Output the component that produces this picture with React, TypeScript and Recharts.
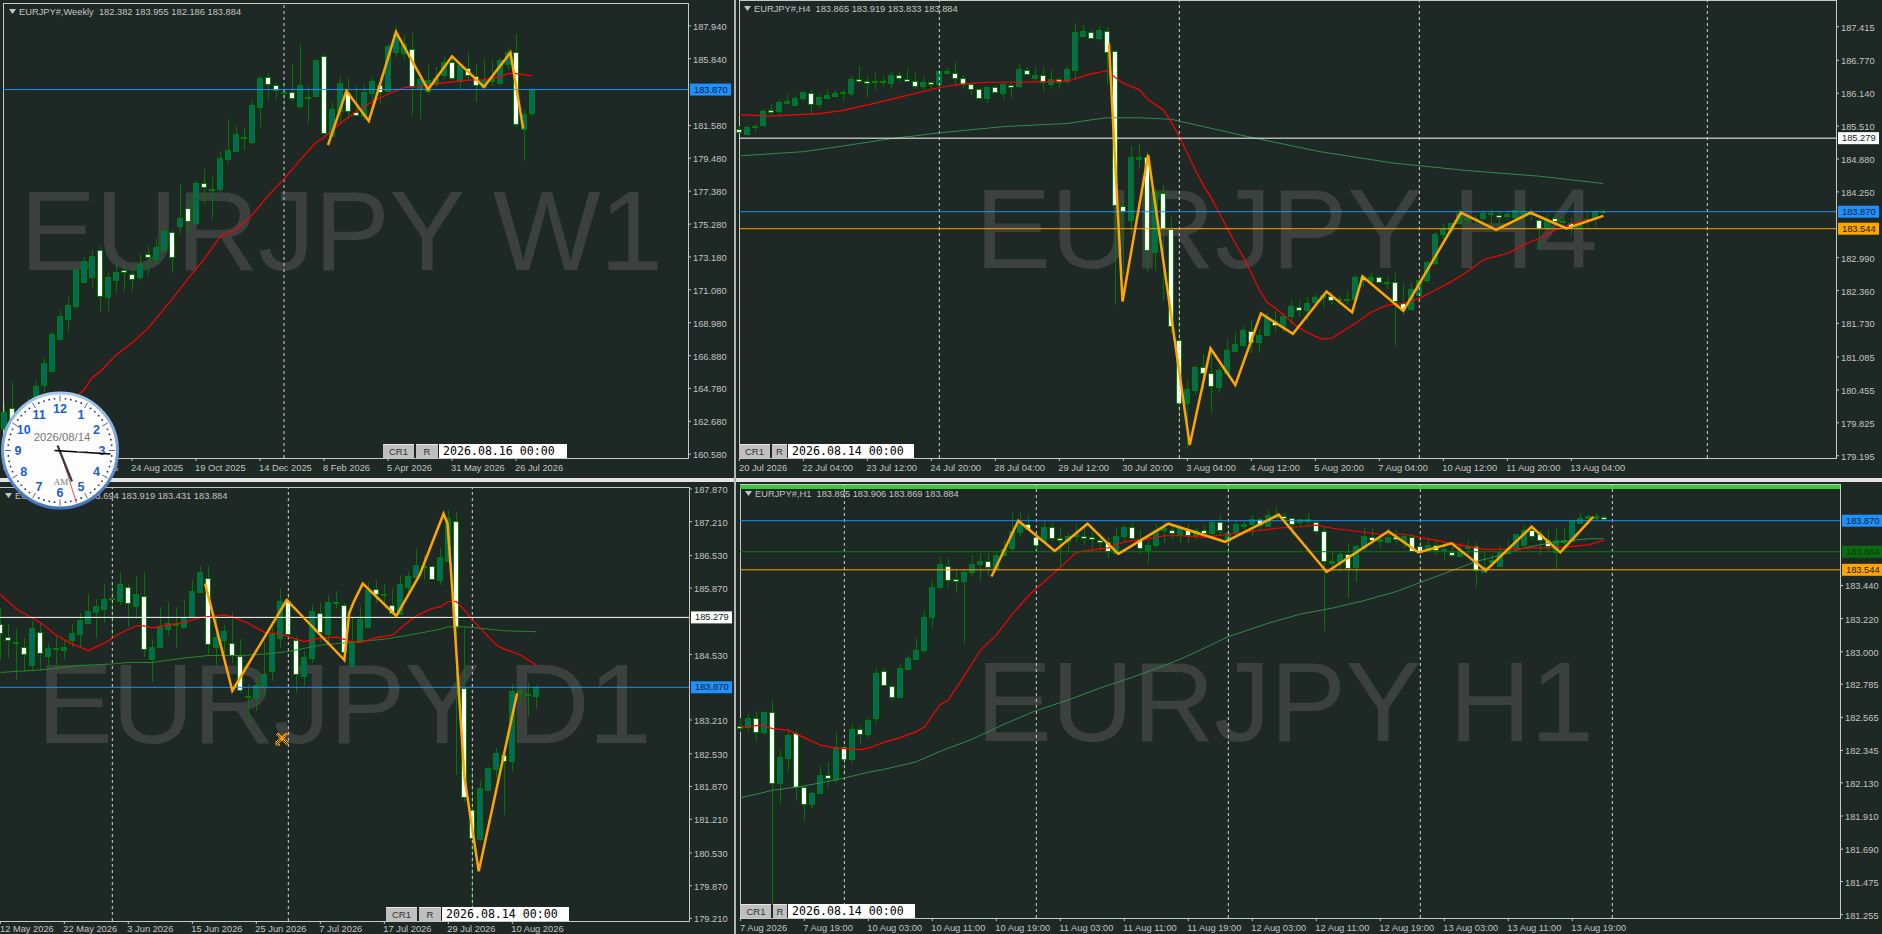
import React from 'react';
import { Bar, ComposedChart, Line, ReferenceLine, XAxis, YAxis } from 'recharts';

// weekly
const w1Open = [
  162.3,163.55,162.3,163.0,164.25,164.96,165.85,167.93,169.19,170.06,
  171.6,171.91,173.64,170.6,171.66,172.32,172.1,171.87,173.4,173.04,
  173.64,174.79,175.19,176.3,175.38,177.91,177.53,177.55,179.45,179.98,
  180.81,180.53,182.76,184.68,184.17,183.62,183.72,182.83,183.36,183.47,
  186.02,180.96,182.55,183.62,182.45,182.23,183.66,184.15,183.83,186.27,
  186.17,186.47,183.93,183.79,184.25,184.79,185.64,184.42,185.25,184.72,
  184.0,184.47,184.25,185.53,186.27,181.38,182.382,
];
const w1Close = [
  163.3,162.87,163.0,163.6,164.96,166.38,168.23,169.38,170.08,172.34,
  172.93,173.27,170.68,171.87,172.19,172.19,171.8,172.7,173.19,173.79,
  174.87,173.17,175.7,175.47,177.91,177.68,177.45,179.53,180.04,181.06,
  180.87,182.91,184.64,184.25,183.85,183.7,183.36,184.19,183.42,185.74,
  181.13,182.66,184.32,182.49,182.28,183.74,184.45,183.72,186.68,187.44,
  186.76,184.08,184.57,184.51,184.64,185.64,184.64,185.42,184.79,184.15,
  184.46,184.64,185.74,186.27,181.64,182.34,183.884,
];
const w1High = [
  163.93,165.17,163.4,164.19,165.25,166.7,168.36,169.79,170.6,172.44,
  173.19,173.61,173.87,172.13,172.93,172.66,172.62,173.34,173.87,174.42,
  175.06,174.93,177.87,176.85,178.04,178.79,178.3,179.93,181.96,181.53,
  181.45,183.13,184.72,184.93,184.36,184.15,185.53,186.81,184.08,185.81,
  186.17,183.08,184.74,184.64,184.08,184.19,184.68,184.68,186.81,187.91,
  187.34,187.51,185.0,185.42,185.32,185.96,186.06,185.53,186.27,185.53,
  185.85,185.74,185.91,186.59,187.45,182.66,183.955,
];
const w1Low = [
  161.8,162.4,162.0,162.6,163.9,164.57,165.74,167.81,168.4,169.83,
  171.53,171.27,169.68,169.74,170.89,171.02,171.02,171.66,172.02,172.76,
  173.55,172.17,174.64,174.72,175.17,176.55,175.62,177.27,179.19,179.96,
  180.0,180.38,181.49,183.19,183.3,182.55,183.13,182.66,181.74,183.4,
  180.81,180.85,181.7,182.02,182.13,181.91,183.08,182.98,183.72,185.96,
  185.74,182.23,181.98,183.5,184.04,184.57,184.47,183.89,184.57,183.08,
  183.9,184.08,184.19,185.1,181.49,179.3,182.186,
];
const w1Ma = [
  [1,160.9],[5,162.6],[10,164.68],[11,165.47],[12,165.85],[14,166.91],[16,167.7],[18,168.62],[20,169.87],[21,170.47],
  [23,171.8],[25,173.02],[27,174.47],[29,174.93],[31,175.85],[33,177.08],[35,178.17],[37,179.36],[39,180.49],[40,180.81],
  [42,181.7],[44,182.45],[46,183.08],[48,183.57],[50,184.0],[52,184.08],[54,184.25],[56,184.36],[58,184.47],[60,184.51],
  [62,184.68],[63,184.89],[64,184.89],[65,184.83],[66,184.74],
];
const w1Zigzag = [
  [40.5,180.32],[42.8,183.79],[45.6,181.87],[49,187.55],[53,183.87],[56,185.99],[60,184.04],[63.3,186.23],[64.9,181.38],
];
const w1Ticks = [187.94,185.84,181.58,179.48,177.38,175.28,173.18,171.08,168.98,166.88,164.78,162.68,160.58];
const w1Dates: [number, string][] = [
  [0,'4 May 2025'],[8,'29 Jun 2025'],[16,'24 Aug 2025'],[24,'19 Oct 2025'],[32,'14 Dec 2025'],
  [40,'8 Feb 2026'],[48,'5 Apr 2026'],[56,'31 May 2026'],[64,'26 Jul 2026'],
];

// h4
const h4Open = [
  185.45,185.37,185.5,185.52,185.81,185.79,185.96,185.9,186.04,186.15,
  185.92,186.05,186.09,186.14,186.15,186.42,186.38,186.35,186.35,186.34,
  186.48,186.42,186.38,186.28,186.35,186.32,186.53,186.53,186.44,186.32,
  186.23,186.03,186.25,186.14,186.3,186.27,186.59,186.43,186.48,186.32,
  186.42,186.37,186.59,187.23,187.32,187.2,187.34,186.94,183.97,183.71,
  184.89,184.91,183.1,184.23,183.53,181.41,180.2,180.45,180.89,180.77,
  180.52,180.77,181.2,181.32,181.59,181.38,181.5,181.78,181.68,181.86,
  182.05,181.99,182.13,182.23,182.25,182.17,182.18,182.18,182.61,182.53,
  182.61,182.5,182.52,182.13,182.0,182.27,182.55,182.89,183.43,183.52,
  183.65,183.72,183.72,183.74,183.82,183.81,183.78,183.76,183.84,183.87,
  183.72,183.57,183.74,183.68,183.66,183.58,183.71,183.74,183.865,
];
const h4Close = [
  185.39,185.5,185.52,185.79,185.77,185.97,185.99,186.04,186.16,185.93,
  186.06,186.1,186.14,186.16,186.42,186.39,186.35,186.37,186.37,186.49,
  186.42,186.38,186.28,186.35,186.32,186.56,186.56,186.44,186.33,186.23,
  186.06,186.25,186.16,186.31,186.26,186.6,186.52,186.48,186.34,186.42,
  186.37,186.6,187.31,187.33,187.21,187.35,186.94,183.98,183.87,184.92,
  184.92,183.12,184.25,183.55,181.67,180.2,180.47,180.89,180.77,180.52,
  180.84,181.22,181.33,181.6,181.38,181.51,181.83,181.7,181.87,182.06,
  182.0,182.13,182.23,182.27,182.18,182.19,182.19,182.61,182.55,182.61,
  182.52,182.52,182.15,182.0,182.38,182.56,182.9,183.44,183.53,183.65,
  183.84,183.74,183.74,183.84,183.84,183.78,183.82,183.9,183.87,183.83,
  183.57,183.72,183.69,183.7,183.6,183.68,183.73,183.88,183.884,
];
const h4High = [
  185.51,185.52,185.55,185.84,185.93,186.02,186.12,186.1,186.19,186.2,
  186.12,186.2,186.21,186.2,186.47,186.66,186.47,186.53,186.47,186.55,
  186.55,186.6,186.52,186.46,186.36,186.58,186.63,186.74,186.49,186.34,
  186.24,186.28,186.3,186.33,186.33,186.7,186.64,186.65,186.65,186.58,
  186.44,186.67,187.48,187.45,187.35,187.43,187.41,186.97,184.15,185.12,
  185.17,185.03,184.32,184.38,183.77,182.24,180.65,180.91,181.14,181.22,
  180.9,181.43,181.56,181.68,181.8,181.62,181.92,181.97,181.92,182.18,
  182.15,182.23,182.29,182.32,182.34,182.27,182.36,182.64,182.66,182.69,
  182.64,182.61,182.69,182.5,182.51,182.6,182.93,183.49,183.66,183.66,
  183.93,183.84,183.81,183.89,183.93,183.87,183.91,183.93,183.95,183.93,
  183.77,183.83,183.84,183.78,183.74,183.74,183.87,183.9,183.919,
];
const h4Low = [
  185.37,185.36,185.4,185.49,185.72,185.7,185.91,185.89,185.99,185.73,
  185.86,186.03,186.07,185.99,186.09,186.33,186.05,186.2,186.28,186.23,
  186.35,186.35,186.23,186.21,186.23,186.23,186.5,186.3,186.22,186.11,
  186.05,185.96,186.14,186.03,186.05,186.24,186.5,186.38,186.18,186.22,
  186.22,186.32,186.41,187.21,187.17,187.14,186.3,182.08,182.66,183.45,
  184.7,182.72,182.73,182.18,181.55,179.9,179.32,180.36,180.45,180.02,
  180.4,180.74,181.19,181.28,181.17,181.17,181.48,181.56,181.56,181.72,
  181.86,181.8,182.06,182.04,182.1,182.11,182.11,182.15,182.43,182.47,
  182.5,182.38,181.3,181.9,181.96,182.21,182.5,182.85,183.26,183.46,
  183.62,183.58,183.62,183.57,183.55,183.58,183.72,183.58,183.57,183.71,
  183.14,183.52,183.57,183.55,183.42,183.52,183.58,183.57,183.833,
];
const h4MaFast = [
  [0,185.73],[4,185.7],[5,185.71],[10,185.75],[13,185.81],[17,185.95],[21,186.1],[25,186.25],[28,186.32],[31,186.35],
  [35,186.35],[41,186.37],[44,186.51],[46,186.57],[47,186.44],[48,186.33],[50,186.21],[51,186.03],[53,185.82],[54,185.59],
  [55,185.31],[57,184.67],[58,184.38],[59,184.13],[60,183.84],[61,183.55],[62,183.26],[63,183.0],[64,182.69],[65,182.37],
  [66,182.13],[67,182.02],[68,181.9],[69,181.76],[70,181.64],[71,181.56],[72,181.48],[73,181.43],[74,181.44],[75,181.54],
  [77,181.73],[79,181.95],[81,182.08],[83,182.11],[85,182.21],[87,182.37],[89,182.53],[91,182.72],[93,182.95],[96,183.07],
  [98,183.23],[100,183.36],[102,183.52],[104,183.64],[106,183.71],[108,183.79],
];
const h4MaSlow = [
  [0,184.94],[8,185.02],[13,185.13],[19,185.27],[25,185.38],[33,185.5],[41,185.56],[44,185.63],[46,185.67],[50,185.67],
  [54,185.64],[63.5,185.31],[72.6,185.02],[81.8,184.8],[90.9,184.66],[100,184.55],[108,184.41],
];
const h4Zigzag = [
  [46.2,187.09],[47.9,182.15],[51.1,184.96],[56.3,179.4],[58.9,181.25],[62,180.55],[65.2,181.92],[69.2,181.53],[73.4,182.34],
  [76.6,181.94],[77.9,182.63],[83,181.97],[90.2,183.85],[94.6,183.52],[98.9,183.85],[103.4,183.55],[108,183.79],
];
const h4Ticks = [187.415,186.77,186.14,185.51,184.88,184.25,182.99,182.36,181.73,181.085,180.455,179.825,179.195];
const h4Dates: [number, string][] = [
  [0,'20 Jul 2026'],[8,'22 Jul 04:00'],[16,'23 Jul 12:00'],[24,'24 Jul 20:00'],[32,'28 Jul 04:00'],[40,'29 Jul 12:00'],[48,'30 Jul 20:00'],
  [56,'3 Aug 04:00'],[64,'4 Aug 12:00'],[72,'5 Aug 20:00'],[80,'7 Aug 04:00'],[88,'10 Aug 12:00'],[96,'11 Aug 20:00'],[104,'13 Aug 04:00'],
];

// daily
const d1Open = [
  185.15,184.89,184.75,184.68,184.32,184.99,184.49,184.64,184.62,184.81,
  184.94,185.17,185.39,185.46,185.64,185.62,185.9,185.52,185.72,184.45,
  184.69,185.04,185.15,185.09,185.29,185.78,186.08,184.68,184.81,184.77,
  184.5,183.7,183.68,183.91,184.2,184.86,185.6,184.82,184.11,184.47,
  185.37,184.94,185.56,185.53,184.3,184.81,185.08,185.86,185.73,185.53,
  185.36,185.9,186.09,186.31,186.31,186.02,186.42,187.23,183.86,181.4,
  180.81,181.79,182.22,182.51,182.38,183.77,183.73,183.694,
];
const d1Close = [
  184.97,184.82,184.78,184.54,185.06,184.56,184.66,184.67,184.69,184.96,
  185.23,185.41,185.51,185.66,185.67,185.96,185.58,185.76,184.66,184.69,
  185.09,185.16,185.12,185.29,185.81,186.19,184.74,184.88,185.0,184.52,
  183.82,183.67,183.92,184.13,184.94,185.6,184.94,184.13,184.49,185.41,
  184.98,185.58,185.59,184.59,184.79,185.24,185.83,185.76,185.76,185.36,
  185.96,186.12,186.33,186.29,186.04,186.49,187.29,185.09,181.67,180.83,
  181.84,182.24,182.54,182.38,183.8,183.8,183.7,183.884,
];
const d1High = [
  185.46,185.15,185.04,184.86,185.21,185.19,184.76,184.92,184.84,185.15,
  185.36,185.76,185.66,185.96,185.98,186.2,185.96,186.11,186.19,184.84,
  185.48,185.58,185.48,185.63,186.04,186.31,186.32,185.31,185.13,185.39,
  184.84,183.94,184.09,184.79,185.09,185.85,185.76,184.9,184.61,185.53,
  185.56,185.73,185.82,185.56,185.29,185.48,186.0,186.03,185.95,185.86,
  186.13,186.2,186.65,186.53,186.33,186.67,187.45,187.41,185.09,182.24,
  181.99,182.27,182.64,182.69,183.94,183.92,183.96,183.919,
];
const d1Low = [
  184.42,184.47,184.02,184.17,184.21,184.19,184.25,184.22,184.45,184.69,
  184.69,185.15,184.86,185.17,184.88,185.53,185.09,185.24,184.49,183.97,
  184.68,184.92,184.66,185.06,185.28,185.78,184.52,184.25,184.42,184.35,
  183.76,183.15,183.4,183.68,183.99,184.66,184.82,183.75,183.9,184.35,
  184.79,184.76,185.46,184.35,184.29,184.79,185.06,185.56,185.49,185.33,
  185.33,185.73,186.07,186.03,186.03,185.93,186.4,182.11,181.55,179.44,
  180.78,181.77,182.04,181.3,182.19,183.54,183.27,183.431,
];
const d1MaFast = [
  [0,185.74],[2,185.45],[4,185.26],[5,185.17],[7,184.92],[9,184.74],[11,184.61],[13,184.76],[15,184.96],[17,185.11],
  [18,185.11],[19,185.07],[21,185.13],[23,185.18],[25,185.28],[27,185.31],[28,185.33],[29,185.29],[31,185.16],[33,184.98],
  [35,184.94],[36,184.89],[38,184.79],[40,184.86],[42,184.88],[44,184.79],[45,184.77],[47,184.87],[49,184.92],[51,185.19],
  [52,185.31],[54,185.46],[55,185.49],[56,185.6],[57,185.6],[58,185.43],[59,185.23],[61,184.89],[62,184.72],[63,184.64],
  [65,184.52],[67,184.32],
];
const d1MaSlow = [
  [0,184.17],[5,184.22],[10,184.31],[14,184.34],[16,184.37],[19,184.37],[23,184.46],[26,184.51],[30,184.51],[33,184.54],
  [36,184.59],[40,184.72],[44,184.78],[48,184.84],[51,184.92],[55,185.04],[56,185.09],[58,185.09],[60,185.06],[63,185.01],[67,184.99],
];
const d1Zigzag = [
  [25.6,185.96],[29,183.8],[35.8,185.63],[43,184.42],[43.6,185.36],[44.2,185.6],[45.3,185.96],[49.5,185.31],[52.4,186.13],
  [55.4,187.37],[55.9,187.17],[56.5,185.83],[58,182.07],[59.8,180.16],[64.6,183.75],
];
const d1Ticks = [187.87,187.21,186.53,185.87,184.53,183.21,182.53,181.87,181.21,180.53,179.87,179.21];
const d1Dates: [number, string][] = [
  [0,'12 May 2026'],[8,'22 May 2026'],[16,'3 Jun 2026'],[24,'15 Jun 2026'],[32,'25 Jun 2026'],
  [40,'7 Jul 2026'],[48,'17 Jul 2026'],[56,'29 Jul 2026'],[64,'10 Aug 2026'],
];

// h1
const h1Open = [
  182.51,182.5,182.56,182.47,182.6,182.13,182.3,182.46,182.1,181.99,
  182.06,182.18,182.16,182.37,182.29,182.49,182.46,182.56,182.87,182.77,
  182.7,182.89,182.95,183.01,183.23,183.43,183.57,183.48,183.47,183.53,
  183.58,183.6,183.55,183.64,183.69,183.8,183.85,183.76,183.74,183.83,
  183.755,183.74,183.77,183.77,183.76,183.74,183.73,183.66,183.77,183.83,
  183.75,183.68,183.71,183.81,183.81,183.78,183.81,183.78,183.81,183.79,
  183.86,183.74,183.79,183.84,183.85,183.88,183.84,183.9,183.9,183.89,
  183.86,183.87,183.86,183.8,183.59,183.6,183.65,183.56,183.7,183.76,
  183.74,183.73,183.76,183.74,183.76,183.7,183.67,183.71,183.67,183.66,
  183.64,183.69,183.7,183.53,183.6,183.57,183.66,183.69,183.71,183.81,
  183.78,183.74,183.66,183.73,183.74,183.86,183.89,183.89,183.895,
];
const h1Close = [
  182.5,182.56,182.47,182.6,182.13,182.3,182.45,182.1,181.99,182.06,
  182.18,182.16,182.37,182.29,182.49,182.46,182.55,182.86,182.78,182.7,
  182.89,182.96,183.01,183.23,183.43,183.58,183.48,183.47,183.53,183.58,
  183.6,183.56,183.64,183.68,183.8,183.85,183.82,183.71,183.83,183.76,
  183.745,183.77,183.78,183.76,183.75,183.73,183.67,183.77,183.83,183.76,
  183.69,183.71,183.81,183.82,183.79,183.82,183.78,183.81,183.79,183.86,
  183.81,183.79,183.85,183.85,183.88,183.84,183.91,183.91,183.89,183.85,
  183.88,183.88,183.8,183.6,183.6,183.65,183.56,183.7,183.77,183.74,
  183.75,183.76,183.75,183.77,183.67,183.66,183.71,183.68,183.68,183.64,
  183.67,183.7,183.54,183.56,183.61,183.66,183.69,183.78,183.81,183.77,
  183.74,183.7,183.74,183.74,183.87,183.89,183.9,183.9,183.884,
];
const h1High = [
  182.56,182.59,182.61,182.61,182.68,182.35,182.49,182.49,182.11,182.07,
  182.24,182.27,182.47,182.38,182.52,182.51,182.56,182.89,182.89,182.78,
  182.91,182.98,183.09,183.27,183.47,183.63,183.62,183.54,183.55,183.64,
  183.65,183.65,183.66,183.74,183.92,183.93,183.91,183.79,183.87,183.86,
  183.83,183.79,183.85,183.85,183.82,183.79,183.76,183.83,183.84,183.86,
  183.81,183.74,183.85,183.87,183.84,183.85,183.85,183.82,183.84,183.87,
  183.91,183.82,183.87,183.87,183.91,183.89,183.94,183.96,183.92,183.89,
  183.88,183.92,183.87,183.83,183.67,183.67,183.72,183.71,183.82,183.82,
  183.78,183.82,183.81,183.78,183.78,183.75,183.75,183.74,183.73,183.7,
  183.72,183.74,183.73,183.66,183.65,183.7,183.74,183.78,183.84,183.84,
  183.81,183.81,183.82,183.82,183.88,183.92,183.91,183.92,183.906,
];
const h1Low = [
  182.47,182.47,182.41,182.45,181.32,181.99,182.21,182.01,181.88,181.96,
  182.06,182.1,182.13,182.18,182.26,182.39,182.43,182.53,182.77,182.68,
  182.7,182.88,182.95,182.99,183.16,183.42,183.43,183.39,183.05,183.5,
  183.47,183.5,183.55,183.63,183.66,183.76,183.81,183.68,183.73,183.73,
  183.56,183.67,183.73,183.71,183.68,183.68,183.62,183.66,183.72,183.74,
  183.65,183.59,183.69,183.72,183.74,183.72,183.72,183.74,183.76,183.76,
  183.77,183.65,183.76,183.81,183.77,183.81,183.83,183.88,183.85,183.77,
  183.83,183.84,183.78,183.14,183.53,183.53,183.36,183.46,183.67,183.71,
  183.69,183.72,183.71,183.69,183.66,183.6,183.66,183.64,183.61,183.63,
  183.63,183.65,183.43,183.53,183.56,183.56,183.65,183.69,183.7,183.74,
  183.64,183.67,183.55,183.66,183.73,183.85,183.85,183.87,183.869,
];
const h1MaFast = [
  [0,182.5],[2,182.51],[3,182.51],[4,182.49],[6,182.48],[8,182.43],[10,182.38],[12,182.36],[15,182.35],[16,182.36],
  [18,182.4],[20,182.43],[22,182.47],[23,182.5],[25,182.65],[26,182.68],[28,182.84],[30,183.01],[32,183.11],[34,183.25],
  [36,183.37],[37,183.42],[40,183.56],[42,183.66],[43,183.67],[46,183.69],[48,183.73],[51,183.75],[53,183.77],[55,183.77],
  [58,183.76],[61,183.78],[64,183.8],[67,183.82],[70,183.83],[72,183.84],[74,183.82],[77,183.8],[80,183.78],[83,183.78],
  [86,183.75],[89,183.72],[91,183.7],[93,183.68],[96,183.68],[99,183.69],[102,183.69],[104,183.7],[106,183.71],[108,183.74],
];
const h1MaSlow = [
  [0,182.03],[4,182.08],[8,182.11],[12,182.15],[16,182.2],[18,182.22],[22,182.27],[25,182.34],[29,182.42],[33,182.52],
  [37,182.61],[41,182.68],[45,182.76],[49,182.83],[55,182.95],[59,183.05],[61,183.1],[66,183.19],[70,183.25],[74,183.29],
  [78,183.34],[82,183.4],[85,183.46],[89,183.54],[92,183.6],[95,183.64],[98,183.69],[101,183.72],[104,183.74],[106,183.75],[108,183.75],
];
const h1Zigzag = [
  [31.4,183.5],[34.75,183.87],[39.3,183.67],[43.4,183.85],[47.25,183.65],[53.5,183.85],[60.6,183.73],[67.3,183.91],[73.3,183.53],
  [81,183.8],[84.75,183.66],[88.9,183.72],[93.2,183.54],[98.9,183.83],[102.5,183.66],[106.6,183.895],
];
const h1Ticks = [183.44,183.22,183.0,182.785,182.565,182.345,182.13,181.91,181.69,181.475,181.255];
const h1Dates: [number, string][] = [
  [0,'7 Aug 2026'],[8,'7 Aug 19:00'],[16,'10 Aug 03:00'],[24,'10 Aug 11:00'],[32,'10 Aug 19:00'],[40,'11 Aug 03:00'],[48,'11 Aug 11:00'],
  [56,'11 Aug 19:00'],[64,'12 Aug 03:00'],[72,'12 Aug 11:00'],[80,'12 Aug 19:00'],[88,'13 Aug 03:00'],[96,'13 Aug 11:00'],[104,'13 Aug 19:00'],
];

const BG = '#1e2824';
const FRAME = '#c8c8c8';
const TEXT = '#c4c4c4';
const SANS = '"Liberation Sans", Arial, sans-serif';
const MONO = '"DejaVu Sans Mono", monospace';
const BLUE = '#1e90ff';
const ORANGE = '#ffa500';

const pts = (list: number[][]) => list.map(([x, v]) => ({ x, v }));

function buildRows(open: number[], high: number[], low: number[], close: number[], count: number) {
  const rows = [];
  for (let i = 0; i < count; i++) {
    const has = i < open.length;
    rows.push({
      i,
      o: has ? open[i] : null,
      h: has ? high[i] : null,
      l: has ? low[i] : null,
      c: has ? close[i] : null,
      range: has ? [low[i], high[i]] : null,
    });
  }
  return rows;
}

function Candle(props: any) {
  const { x, y, width, height, payload } = props;
  if (!payload || payload.h == null) return null;
  const k = height / (payload.h - payload.l);
  const cx = Math.round(x + width / 2) + 0.5;
  const top = y + (payload.h - Math.max(payload.o, payload.c)) * k;
  const bottom = y + (payload.h - Math.min(payload.o, payload.c)) * k;
  const up = payload.c >= payload.o;
  return (
    <g shapeRendering="crispEdges">
      <line x1={cx} x2={cx} y1={y} y2={y + height} stroke="#007800" />
      <rect
        x={cx - 3}
        y={Math.round(top) + 0.5}
        width={5}
        height={Math.max(Math.round(bottom - top), 1)}
        fill={up ? '#006b5c' : '#ffffff'}
        stroke="#008000"
      />
    </g>
  );
}

function PriceTag(props: any) {
  const { viewBox, value, bg, color } = props;
  if (!viewBox) return null;
  const x = viewBox.x + viewBox.width + 2;
  const y = viewBox.y;
  return (
    <g>
      <rect x={x} y={y - 6} width={41} height={12} fill={bg} />
      <text x={x + 4} y={y + 3} fontSize={9.3} fontFamily={SANS} fill={color}>{value}</text>
    </g>
  );
}

function Panel(props: any) {
  const { box, count, padL, padR, domain, ticks, dates, rows, lines, vLines, fast, slow, slowColor, zigzag, labelDy } = props;
  const labels = new Map(dates);
  const pad = { left: padL, right: padR };
  return (
    <ComposedChart
      width={box.w + 42}
      height={box.h + 16}
      data={rows}
      margin={{ top: 0, right: 0, bottom: 0, left: 0 }}
      barCategoryGap={0}
      style={{ position: 'absolute', left: box.x, top: box.y }}
    >
      <XAxis
        dataKey="i"
        type="category"
        ticks={dates.map((d: any) => d[0])}
        interval={0}
        height={16}
        padding={pad}
        axisLine={false}
        tickLine={false}
        tickSize={0}
        tickMargin={0}
        tick={(p: any) => (
          <g key={p.payload.value}>
            <line x1={p.x} x2={p.x} y1={box.h} y2={box.h + 3} stroke={FRAME} />
            <text x={Math.max(p.x - 1, 0)} y={box.h + labelDy} fontSize={9.3} fontFamily={SANS} fill={TEXT}>
              {labels.get(p.payload.value) as string}
            </text>
          </g>
        )}
      />
      <XAxis xAxisId="n" dataKey="x" type="number" domain={[-0.5, count - 0.5]} padding={pad} hide allowDataOverflow />
      <YAxis
        orientation="right"
        type="number"
        width={42}
        domain={domain}
        ticks={ticks}
        interval={0}
        axisLine={false}
        tickLine={false}
        tickSize={0}
        tickMargin={0}
        allowDataOverflow
        tick={(p: any) => (
          <g key={p.payload.value}>
            <line x1={box.w} x2={box.w + 3} y1={p.y} y2={p.y} stroke={FRAME} />
            <text x={box.w + 5} y={p.y + 4} fontSize={9.3} fontFamily={SANS} fill={TEXT}>
              {Number(p.payload.value).toFixed(3)}
            </text>
          </g>
        )}
      />
      {vLines.map((v: number) => (
        <ReferenceLine key={v} x={v} stroke="#d4d4d4" strokeDasharray="3 3" />
      ))}
      <Bar dataKey="range" shape={<Candle />} isAnimationActive={false} />
      {slow && (
        <Line xAxisId="n" data={pts(slow)} dataKey="v" stroke={slowColor} strokeWidth={1} dot={false} isAnimationActive={false} />
      )}
      <Line xAxisId="n" data={pts(fast)} dataKey="v" stroke="#ff0000" strokeWidth={1.2} dot={false} isAnimationActive={false} />
      {lines.map((l: any) => (
        <ReferenceLine
          key={l.y}
          y={l.y}
          stroke={l.stroke}
          strokeWidth={1}
          label={<PriceTag value={l.y.toFixed(3)} bg={l.bg || l.stroke} color={l.color || '#10201c'} />}
        />
      ))}
      <Line xAxisId="n" data={pts(zigzag)} dataKey="v" stroke={ORANGE} strokeWidth={2.5} dot={false} isAnimationActive={false} />
    </ComposedChart>
  );
}

function Watermark({ text, left, baseline, spacing }: { text: string; left: number; baseline: number; spacing: number }) {
  return (
    <div
      style={{
        position: 'absolute',
        left,
        top: baseline - 96.5,
        fontFamily: SANS,
        fontSize: 114,
        lineHeight: 1,
        letterSpacing: spacing,
        color: '#3c4140',
        whiteSpace: 'pre',
      }}
    >
      {text}
    </div>
  );
}

function Header({ left, top, text }: { left: number; top: number; text: string }) {
  return (
    <>
      <svg style={{ position: 'absolute', left: left - 10, top: top - 3 }} width={8} height={6}>
        <path d="M0 0 L7 0 L3.5 5 Z" fill={TEXT} />
      </svg>
      <div
        style={{
          position: 'absolute',
          left,
          top: top - 6,
          height: 12,
          lineHeight: '12px',
          fontFamily: SANS,
          fontSize: 9.3,
          color: TEXT,
          whiteSpace: 'pre',
        }}
      >
        {text}
      </div>
    </>
  );
}

function Buttons({ x, y, cr, r, date, stamp }: { x: number; y: number; cr: number; r: number; date: number; stamp: string }) {
  const btn: React.CSSProperties = {
    position: 'absolute',
    top: y,
    height: 14,
    lineHeight: '14px',
    background: '#bfbfbf',
    color: '#333',
    fontFamily: SANS,
    fontSize: 9.5,
    textAlign: 'center',
    borderTop: '1px solid #e6e6e6',
    boxSizing: 'border-box',
  };
  return (
    <>
      <div style={{ ...btn, left: x, width: cr - x - 2 }}>CR1</div>
      <div style={{ ...btn, left: cr, width: r - cr - 1 }}>R</div>
      <div
        style={{
          position: 'absolute',
          left: r,
          top: y,
          width: date - r,
          height: 14,
          lineHeight: '14px',
          background: '#fff',
          color: '#000',
          fontFamily: MONO,
          fontSize: 11.6,
          paddingLeft: 4,
          boxSizing: 'border-box',
          whiteSpace: 'pre',
        }}
      >
        {stamp}
      </div>
    </>
  );
}

function Frame({ x, y, w, h }: { x: number; y: number; w: number; h: number }) {
  return (
    <div
      style={{
        position: 'absolute',
        left: x,
        top: y,
        width: w,
        height: h,
        boxSizing: 'border-box',
        border: `1px solid ${FRAME}`,
      }}
    />
  );
}

function Clock() {
  const cx = 60;
  const cy = 450.5;
  const nums = [12, 1, 2, 3, 4, 5, 6, 7, 8, 9, 10, 11];
  const marks = Array.from({ length: 60 }, (_, i) => i);
  return (
    <svg style={{ position: 'absolute', left: 0, top: 388, overflow: 'visible' }} width={124} height={126}>
      <defs>
        <linearGradient id="rim" x1="0" y1="0" x2="0" y2="1">
          <stop offset="0%" stopColor="#a9c8ec" />
          <stop offset="100%" stopColor="#3f74bd" />
        </linearGradient>
      </defs>
      <g transform={`translate(${cx} ${cy - 388})`}>
        <circle r={57.5} fill="#fdfdfd" stroke="url(#rim)" strokeWidth={3} />
        {marks.map((m) => {
          const a = (m * Math.PI) / 30;
          const s = Math.sin(a);
          const c = -Math.cos(a);
          return m % 5 === 0 ? (
            <line key={m} x1={s * 49} y1={c * 49} x2={s * 55} y2={c * 55} stroke="#333c55" strokeWidth={0.8} />
          ) : (
            <circle key={m} cx={s * 52} cy={c * 52} r={0.9} fill="#1c2a66" />
          );
        })}
        {nums.map((n, i) => {
          const a = (i * Math.PI) / 6;
          return (
            <text
              key={n}
              x={Math.sin(a) * 42}
              y={-Math.cos(a) * 42 + 4.5}
              textAnchor="middle"
              fontFamily={SANS}
              fontWeight="bold"
              fontSize={12.5}
              fill="#1a5fd0"
            >
              {n}
            </text>
          );
        })}
        <text x={2} y={-10} textAnchor="middle" fontFamily={SANS} fontSize={11.3} fill="#777">2026/08/14</text>
        <text x={1} y={34} textAnchor="middle" fontFamily='"Liberation Serif", serif' fontSize={9} fill="#777">AM</text>
        <line x1={0} y1={0} x2={16.5} y2={52.5} stroke="#ee2030" strokeWidth={0.8} />
        <line x1={-2.5} y1={-5} x2={12} y2={31} stroke="#3a3a3a" strokeWidth={2.2} />
        <line x1={-5.5} y1={0} x2={50.5} y2={3.5} stroke="#000" strokeWidth={1.6} />
        <rect x={17} y={0.5} width={11} height={1.2} fill="#888" />
      </g>
    </svg>
  );
}

function CrossIcon({ x, y }: { x: number; y: number }) {
  return (
    <svg style={{ position: 'absolute', left: x - 7, top: y - 7 }} width={14} height={14}>
      <path d="M2 1 L13 12 M1 2 L12 13 M3 1 L14 11 M12 1 L1 12 M13 2 L3 12 M11 1 L1 10" stroke={ORANGE} strokeWidth={1} />
      <path d="M1 13 L1 9 L5 13 Z" fill="none" stroke={ORANGE} />
    </svg>
  );
}

export default function App() {
  return (
    <div style={{ position: 'fixed', left: 0, top: 0, width: 1882, height: 934, background: BG, overflow: 'hidden' }}>
      <style>{'.recharts-surface{overflow:visible}'}</style>
      <Watermark text="EURJPY W1" left={20} baseline={270} spacing={-0.9} />
      <Watermark text="EURJPY H4" left={975} baseline={268} spacing={-0.3} />
      <Watermark text="EURJPY D1" left={37} baseline={743} spacing={-1.3} />
      <Watermark text="EURJPY H1" left={976} baseline={741} spacing={-0.9} />

      <div style={{ position: 'absolute', left: 0, top: 478, width: 1882, height: 4, background: '#e2e2e2' }} />
      <div style={{ position: 'absolute', left: 734, top: 0, width: 2, height: 934, background: '#b4b4b4' }} />

      <Frame x={3} y={3} w={686} h={456} />
      <Frame x={739} y={0} w={1098} h={459} />
      <Frame x={-2} y={487} w={692} h={435} />
      <Frame x={740} y={484} w={1101} h={435} />
      <div style={{ position: 'absolute', left: 740, top: 485, width: 1100, height: 4, background: '#32cd32' }} />

      <Panel
        box={{ x: 3, y: 3, w: 685, h: 455 }}
        count={86}
        padL={-3}
        padR={0}
        domain={[160.34, 189.4]}
        ticks={w1Ticks}
        dates={w1Dates}
        labelDy={13}
        rows={buildRows(w1Open, w1High, w1Low, w1Close, 86)}
        vLines={[35]}
        lines={[{ y: 183.87, stroke: BLUE }]}
        fast={w1Ma}
        zigzag={w1Zigzag}
      />
      <Panel
        box={{ x: 739, y: 1, w: 1097, h: 457 }}
        count={138}
        padL={-3.67}
        padR={-3.33}
        domain={[179.151, 187.907]}
        ticks={h4Ticks}
        dates={h4Dates}
        labelDy={13}
        rows={buildRows(h4Open, h4High, h4Low, h4Close, 138)}
        vLines={[25, 55, 85, 121]}
        lines={[
          { y: 185.279, stroke: '#ffffff' },
          { y: 183.87, stroke: BLUE },
          { y: 183.544, stroke: ORANGE },
        ]}
        fast={h4MaFast}
        slow={h4MaSlow}
        slowColor="#2e8b57"
        zigzag={h4Zigzag}
      />
      <Panel
        box={{ x: 0, y: 488, w: 689, h: 433 }}
        count={87}
        padL={-3.67}
        padR={-3.33}
        domain={[179.158, 187.888]}
        ticks={d1Ticks}
        dates={d1Dates}
        labelDy={11}
        rows={buildRows(d1Open, d1High, d1Low, d1Close, 87)}
        vLines={[14, 36, 59]}
        lines={[
          { y: 185.279, stroke: '#ffffff' },
          { y: 183.87, stroke: BLUE },
        ]}
        fast={d1MaFast}
        slow={d1MaSlow}
        slowColor="#228b22"
        zigzag={d1Zigzag}
      />
      <Panel
        box={{ x: 740, y: 485, w: 1100, h: 433 }}
        count={138}
        padL={-3.67}
        padR={-0.33}
        domain={[181.233, 184.107]}
        ticks={h1Ticks}
        dates={h1Dates}
        labelDy={13}
        rows={buildRows(h1Open, h1High, h1Low, h1Close, 138)}
        vLines={[13, 37, 61, 85, 109]}
        lines={[
          { y: 183.87, stroke: BLUE },
          { y: 183.664, stroke: '#0a7a0a', bg: '#0b6b11', color: '#063a08' },
          { y: 183.544, stroke: ORANGE },
        ]}
        fast={h1MaFast}
        slow={h1MaSlow}
        slowColor="#2e8b57"
        zigzag={h1Zigzag}
      />

      <Header left={19} top={12} text="EURJPY#,Weekly  182.382 183.955 182.186 183.884" />
      <Header left={754} top={9} text="EURJPY#,H4  183.865 183.919 183.833 183.884" />
      <Header left={15} top={496} text="EURJPY#,Daily  183.694 183.919 183.431 183.884" />
      <Header left={755} top={494} text="EURJPY#,H1  183.895 183.906 183.869 183.884" />

      <Buttons x={383} y={444} cr={416} r={439} date={567} stamp="2026.08.16 00:00" />
      <Buttons x={739} y={444} cr={772} r={788} date={914} stamp="2026.08.14 00:00" />
      <Buttons x={386} y={907} cr={419} r={442} date={569} stamp="2026.08.14 00:00" />
      <Buttons x={741} y={904} cr={773} r={788} date={915} stamp="2026.08.14 00:00" />

      <CrossIcon x={282} y={739} />
      <Clock />
    </div>
  );
}
